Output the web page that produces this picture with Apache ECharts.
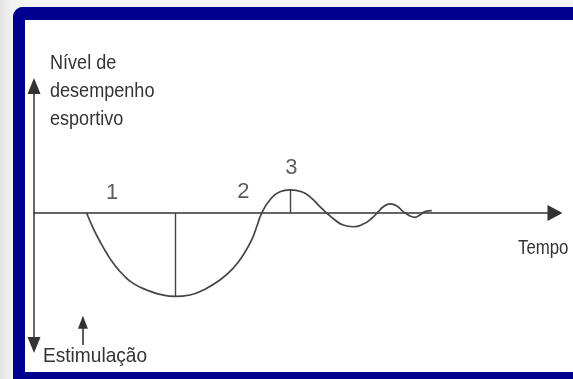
<!DOCTYPE html>
<html>
<head>
<meta charset="utf-8">
<script src="https://cdn.jsdelivr.net/npm/echarts@6/dist/echarts.min.js"></script>
<style>
  html, body { margin: 0; padding: 0; width: 573px; height: 379px; overflow: hidden;
    background: linear-gradient(90deg, #e4e4e4 0, #f3f3f3 13px); }
  #frame { position: absolute; left: 13px; top: 7px; width: 620px; height: 352px; background: #fff;
    border-left: 12px solid #000090; border-top: 13px solid #000090; border-bottom: 12px solid #000090;
    border-top-left-radius: 10px; }
  #chart { position: absolute; left: 0; top: 0; width: 573px; height: 379px; }
</style>
</head>
<body>
<div id="frame"></div>
<div id="chart"></div>
<script>
// Performance response over time after a training stimulus (arbitrary units)
const tempo = [1.99, 2.24, 2.50, 2.75, 3.00, 3.38, 3.75, 4.26, 4.76, 5.33, 5.90, 6.40, 7.03, 7.53,
  7.91, 8.23, 8.42, 8.61, 8.92, 9.30, 9.68, 10.12, 10.50, 10.81, 11.07, 11.38, 11.69, 12.07, 12.45,
  12.77, 13.02, 13.21, 13.46, 13.71, 13.96, 14.22, 14.40, 14.59, 14.78, 15.04];
const desempenho = [0, -1.14, -2.13, -2.99, -3.73, -4.60, -5.22, -5.71, -6.03, -6.19, -6.08, -5.71,
  -4.97, -4.10, -3.12, -2.00, -1.02, 0, 0.96, 1.58, 1.71, 1.58, 1.09, 0.47, 0, -0.52, -0.89, -1.02,
  -0.82, -0.39, 0.10, 0.47, 0.67, 0.54, 0.10, -0.22, -0.32, -0.15, 0.10, 0.17];

// Phase markers placed above the curve
const fases = ['1', '2', '3'];
const faseTempo = [2.95, 7.92, 9.73];
const faseNivel = [1.48, 1.56, 3.32];

// Moment of the stimulus
const estimulo = 1.85;

const INK = '#333333';
const FONT = '"Liberation Sans", Arial, sans-serif';

const curve = tempo.map((t, i) => [t, desempenho[i]]);
let iMin = 0, iMax = 0;
desempenho.forEach((v, i) => {
  if (v < desempenho[iMin]) iMin = i;
  if (v > desempenho[iMax]) iMax = i;
});

// Condensed caption text: horizontally squeezed around its own anchor
function caption(text, x, y, size, squeeze, extra) {
  return {
    type: 'text', x: x, y: y, scaleX: squeeze, silent: true,
    style: Object.assign({ text: text, x: 0, y: 0, fill: INK, font: size + 'px ' + FONT }, extra || {})
  };
}

const chart = echarts.init(document.getElementById('chart'), null, { renderer: 'canvas' });
chart.setOption({
  backgroundColor: 'transparent',
  animation: false,
  grid: { left: 34, right: 18, top: 86, bottom: 34 },
  xAxis: {
    type: 'value', min: 0, max: 19.7,
    axisLabel: { show: false }, axisTick: { show: false }, splitLine: { show: false },
    axisLine: { show: true, onZero: true, symbol: ['none', 'triangle'], symbolSize: [16, 15],
      lineStyle: { color: INK, width: 1.5 } }
  },
  yAxis: {
    type: 'value', min: -9.79, max: 9.42,
    axisLabel: { show: false }, axisTick: { show: false }, splitLine: { show: false },
    axisLine: { show: true, symbol: ['triangle', 'triangle'], symbolSize: [13, 16],
      lineStyle: { color: INK, width: 1.5 } }
  },
  series: [
    {
      type: 'line', data: curve, smooth: 0.5, showSymbol: false, silent: true,
      lineStyle: { color: '#444', width: 1.7 },
      markLine: {
        silent: true, symbol: ['none', 'none'], label: { show: false },
        lineStyle: { color: '#444', width: 1.4, type: 'solid' },
        data: [
          [{ coord: [tempo[iMin], desempenho[iMin]] }, { coord: [tempo[iMin], 0] }],
          [{ coord: [tempo[iMax], desempenho[iMax]] }, { coord: [tempo[iMax], 0] }]
        ]
      }
    },
    {
      type: 'line', data: [], silent: true,
      markLine: {
        silent: true, label: { show: false },
        lineStyle: { color: INK, width: 1.6, type: 'solid' },
        data: [
          [{ coord: [estimulo, -9.79], symbol: 'none' },
           { coord: [estimulo, -8.1], symbol: 'triangle', symbolSize: [10, 13] }]
        ]
      }
    },
    {
      type: 'scatter', silent: true, symbolSize: 1,
      itemStyle: { color: 'transparent' },
      data: faseTempo.map((t, i) => ({ value: [t, faseNivel[i]], name: fases[i] })),
      label: { show: true, position: 'inside', formatter: '{b}', color: INK,
        fontFamily: FONT, fontSize: 22 }
    }
  ],
  graphic: [
    caption('Nível de\ndesempenho\nesportivo', 50, 49.5, 21, 0.86, { lineHeight: 28, verticalAlign: 'top' }),
    caption('Tempo', 518, 248, 20, 0.84, { verticalAlign: 'middle' }),
    caption('Estimulação', 43, 356.5, 21, 0.91, { verticalAlign: 'middle' })
  ]
});
</script>
</body>
</html>
